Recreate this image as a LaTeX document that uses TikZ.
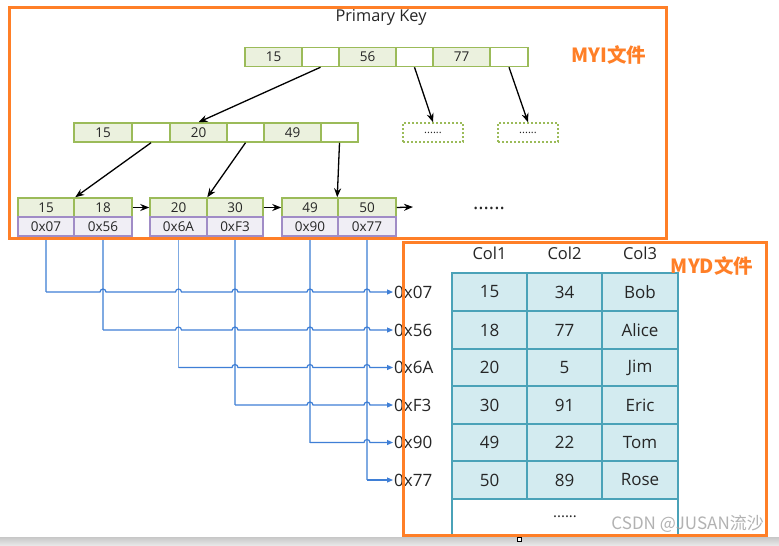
\documentclass[tikz,border=0pt]{standalone}
\usepackage{fontspec}
\setmainfont{Open Sans}
\newfontfamily\cjk{Noto Sans CJK SC}
\usetikzlibrary{arrows.meta,calc}
\definecolor{orng}{HTML}{FF7F27}
\definecolor{gborder}{HTML}{9BBB59}
\definecolor{gfill}{HTML}{EBF1DE}
\definecolor{pborder}{HTML}{A08CC6}
\definecolor{pfill}{HTML}{F0EEF5}
\definecolor{tborder}{HTML}{4AA2B8}
\definecolor{tfill}{HTML}{D3EBF0}
\definecolor{hblue}{HTML}{3F7FD6}
\definecolor{vblue}{HTML}{7FAAE2}
\definecolor{txt}{HTML}{262626}
\newcommand\mkcell[7]{\node[#1, minimum width={(#4-#3)*1pt}, minimum height={(#6-#5)*1pt}] (#2) at ({(#3+#4)/2},{(#5+#6)/2}) {#7};}
\begin{document}
\begin{tikzpicture}[x=1pt,y=-1pt,
  base/.style={rectangle, inner sep=0pt, line width=1.5pt, text=txt, font=\fontsize{13.5}{15}\selectfont},
  keycell/.style={base, draw=gborder, fill=gfill},
  blankcell/.style={base, draw=gborder, fill=white},
  ptrcell/.style={base, draw=pborder, fill=pfill},
  dashcell/.style={base, draw=gborder, dash pattern=on 2pt off 2pt, font=\fontsize{11}{13}\selectfont},
  tcell/.style={rectangle, inner sep=0pt, draw=tborder, fill=tfill, line width=1.8pt, text=txt, font=\fontsize{17}{20}\selectfont},
  tarrow/.style={-{Stealth[length=9pt,width=7pt]}, line width=1.3pt, black},
  vline/.style={vblue, line width=1.2pt},
  hline/.style={hblue, line width=1.2pt},
  addr/.style={anchor=west, inner sep=1pt, text=txt, font=\fontsize{17}{20}\selectfont},
  colhead/.style={text=txt, font=\fontsize{16.5}{19}\selectfont, inner sep=0pt},
  frame/.style={draw=orng, line width=3pt},
  filelabel/.style={text=orng, font=\cjk\bfseries\fontsize{19.5}{22}\selectfont, inner sep=0pt}
]
\useasboundingbox (0,0) rectangle (779,546);
\fill[white] (0,0) rectangle (779,546);

% title
\node[text=txt, font=\fontsize{16.3}{19}\selectfont, inner sep=0pt] (title) at (381,17) {Primary Key};

% root
\mkcell{keycell}{r1}{245}{302}{47.5}{66.5}{15}
\mkcell{blankcell}{r2}{302}{339}{47.5}{66.5}{}
\mkcell{keycell}{r3}{339}{396}{47.5}{66.5}{56}
\mkcell{blankcell}{r4}{396}{433}{47.5}{66.5}{}
\mkcell{keycell}{r5}{433}{490}{47.5}{66.5}{77}
\mkcell{blankcell}{r6}{490}{528}{47.5}{66.5}{}

% level 2
\mkcell{keycell}{m1}{74}{132}{123}{142}{15}
\mkcell{blankcell}{m2}{132}{170}{123}{142}{}
\mkcell{keycell}{m3}{170}{227}{123}{142}{20}
\mkcell{blankcell}{m4}{227}{264}{123}{142}{}
\mkcell{keycell}{m5}{264}{321}{123}{142}{49}
\mkcell{blankcell}{m6}{321}{358}{123}{142}{}

\mkcell{dashcell}{d1}{403}{463}{123}{142}{......}
\mkcell{dashcell}{d2}{498}{558}{123}{142}{......}

% leaves
\mkcell{keycell}{k1}{18}{74}{198}{217}{15}
\mkcell{keycell}{k2}{74}{132}{198}{217}{18}
\mkcell{ptrcell}{p1}{18}{74}{217}{236}{0x07}
\mkcell{ptrcell}{p2}{74}{132}{217}{236}{0x56}
\mkcell{keycell}{k3}{150}{207}{198}{217}{20}
\mkcell{keycell}{k4}{207}{263}{198}{217}{30}
\mkcell{ptrcell}{p3}{150}{207}{217}{236}{0x6A}
\mkcell{ptrcell}{p4}{207}{263}{217}{236}{0xF3}
\mkcell{keycell}{k5}{282}{338}{198}{217}{49}
\mkcell{keycell}{k6}{338}{396}{198}{217}{50}
\mkcell{ptrcell}{p5}{282}{338}{217}{236}{0x90}
\mkcell{ptrcell}{p6}{338}{396}{217}{236}{0x77}
\coordinate (lend) at (413,207);
\node[text=txt, font=\fontsize{20}{22}\selectfont, inner sep=0pt] (ldots) at (489,208) {......};

% tree arrows
\draw[tarrow] (r2.south) -- (m3.north);
\draw[tarrow] (r4.south) -- (d1.north);
\draw[tarrow] (r6.south) -- (d2.north);
\draw[tarrow] (m2.south) -- ([xshift=2pt]k2.north west);
\draw[tarrow] (m4.south) -- ([xshift=1pt]k4.north west);
\draw[tarrow] (m6.south) -- (k6.north west);
\draw[tarrow] (k2.east) -- (k3.west);
\draw[tarrow] (k4.east) -- (k5.west);
\draw[tarrow] (k6.east) -- (lend);

% MYD table
\node[colhead] (c1) at (489.5,253) {Col1};
\node[colhead] (c2) at (564.5,253) {Col2};
\node[colhead] (c3) at (640,253) {Col3};
\foreach \r/\ya/\yb/\va/\vb/\vc in {1/273/311/15/34/Bob, 2/311/349/18/77/Alice, 3/349/386/20/5/Jim, 4/386/424/30/91/Eric, 5/424/461/49/22/Tom, 6/461/499/50/89/Rose}{
  \mkcell{tcell}{t\r a}{452}{527}{\ya}{\yb}{\va}
  \mkcell{tcell}{t\r b}{527}{602}{\ya}{\yb}{\vb}
  \mkcell{tcell}{t\r c}{602}{678}{\ya}{\yb}{\vc}
}
\mkcell{tcell,fill=white}{tlast}{452}{678}{499}{540}{}
\node[text=txt, font=\fontsize{15}{18}\selectfont, inner sep=0pt] (tdots) at (565,517) {......};

% address labels
\foreach \i/\lab/\y in {1/0x07/292, 2/0x56/330, 3/0x6A/367.5, 4/0xF3/405, 5/0x90/442.5, 6/0x77/480}{
  \node[addr] (a\i) at (393,\y) {\lab};
}

% blue connectors
\foreach \i in {1,...,6}{
  \draw[vline] (p\i.south) -- (p\i.south |- a\i.west);
}
\foreach \i/\js in {1/{2,3,4,5,6}, 2/{3,4,5,6}, 3/{4,5,6}, 4/{5,6}, 5/{6}}{
  \draw[hline,-{Triangle[length=6pt,width=5pt]}] (p\i.south |- a\i.west)
    \foreach \j in \js { -- ([xshift=-3pt]p\j.south |- a\i.west) arc[start angle=180,end angle=0,radius=3pt] }
    -- (a\i.west);
}
\draw[hline,-{Triangle[length=6pt,width=5pt]}] (p6.south |- a6.west) -- (a6.west);

% frames
\draw[frame] (9,7) rectangle (666,238);
\node[filelabel] (myi) at (609,55) {MYI文件};
\draw[frame] (403,242) rectangle (766,535);
\node[filelabel] (myd) at (712,266) {MYD文件};

% watermark
\node[text=gray!75, opacity=0.8, font=\cjk\fontsize{17}{20}\selectfont, anchor=east, inner sep=0pt] (wm) at (764,524) {CSDN @JUSAN流沙};

% bottom bar
\shade[top color=black!22, bottom color=black!8] (0,537) rectangle (779,546);
\draw[fill=white, line width=0.6pt] (517.5,537.5) rectangle (521.5,541.5);
\end{tikzpicture}
\end{document}
